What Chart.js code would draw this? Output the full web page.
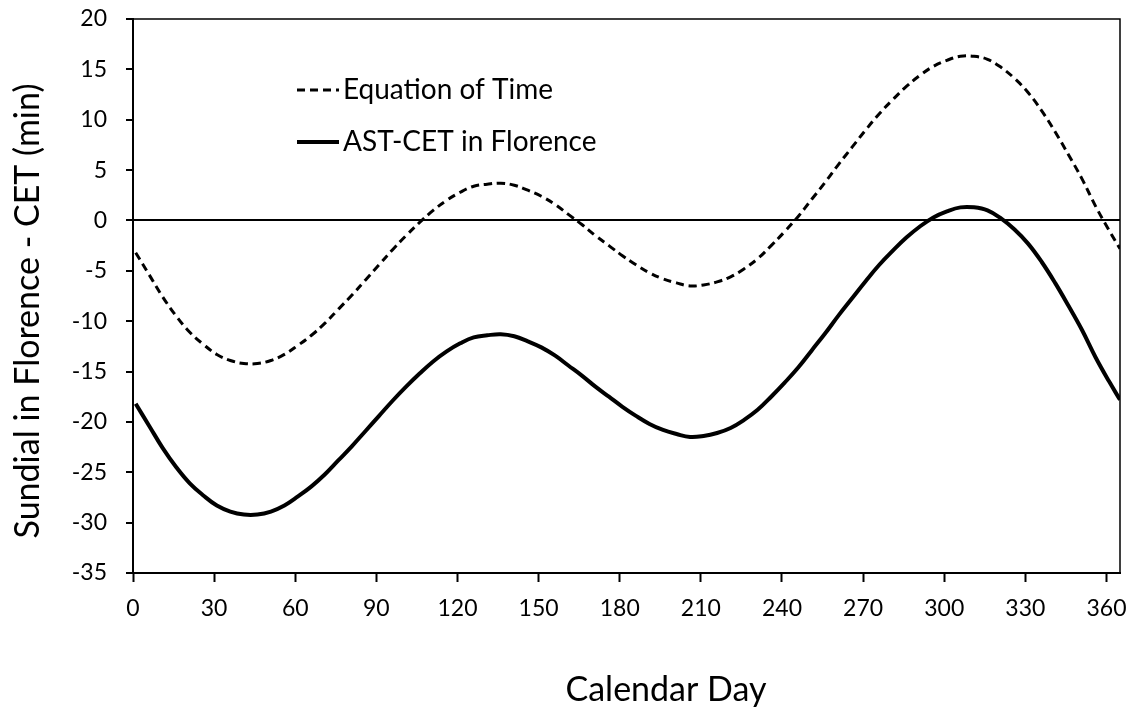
<!DOCTYPE html>
<html>
<head>
<meta charset="utf-8">
<script src="https://cdn.jsdelivr.net/npm/chart.js@4/dist/chart.umd.min.js"></script>
<style>
  html, body { margin: 0; padding: 0; background: #fff; }
  #chart { display: block; }
</style>
</head>
<body>
<canvas id="chart" width="1131" height="711"></canvas>
<script>
// ============================================
// DATA
// ============================================

const DAYS = [1, 6, 11, 16, 21, 26, 31, 36, 41, 46, 51, 56, 61, 66, 71, 76, 81, 86, 91, 96,
    101, 106, 111, 116, 121, 126, 131, 136, 141, 146, 151, 156, 161, 166, 171, 176, 181, 186, 191, 196,
    201, 206, 211, 216, 221, 226, 231, 236, 241, 246, 251, 256, 261, 266, 271, 276, 281, 286, 291, 296,
    301, 306, 311, 316, 321, 326, 331, 336, 341, 346, 351, 356, 361, 365];

const EQUATION_OF_TIME = [-3.2, -5.4, -7.6, -9.5, -11.1, -12.3, -13.3, -13.9, -14.2, -14.2,
    -13.9, -13.3, -12.4, -11.4, -10.2, -8.8, -7.4, -5.9, -4.4, -2.9,
    -1.5, -0.2, 1.0, 2.0, 2.8, 3.4, 3.6, 3.7, 3.5, 3.0,
    2.4, 1.6, 0.6, -0.4, -1.5, -2.5, -3.5, -4.4, -5.2, -5.8,
    -6.2, -6.5, -6.4, -6.1, -5.6, -4.8, -3.8, -2.5, -1.1, 0.4,
    2.1, 3.8, 5.6, 7.3, 9.0, 10.6, 12.0, 13.3, 14.4, 15.3,
    15.9, 16.3, 16.3, 16.0, 15.2, 14.1, 12.7, 10.9, 8.8, 6.5,
    4.1, 1.4, -1.0, -2.8];

const AST_CET_FLORENCE = [-18.2, -20.4, -22.6, -24.5, -26.1, -27.3, -28.3, -28.9, -29.2, -29.2,
    -28.9, -28.3, -27.4, -26.4, -25.2, -23.8, -22.4, -20.9, -19.4, -17.9,
    -16.5, -15.2, -14.0, -13.0, -12.2, -11.6, -11.4, -11.3, -11.5, -12.0,
    -12.6, -13.4, -14.4, -15.4, -16.5, -17.5, -18.5, -19.4, -20.2, -20.8,
    -21.2, -21.5, -21.4, -21.1, -20.6, -19.8, -18.8, -17.5, -16.1, -14.6,
    -12.9, -11.2, -9.4, -7.7, -6.0, -4.4, -3.0, -1.7, -0.6, 0.3,
    0.9, 1.3, 1.3, 1.0, 0.2, -0.9, -2.3, -4.1, -6.2, -8.5,
    -10.9, -13.6, -16.0, -17.8];

const X_TICKS = [0, 30, 60, 90, 120, 150, 180, 210, 240, 270, 300, 330, 360];
const Y_TICKS = [-35, -30, -25, -20, -15, -10, -5, 0, 5, 10, 15, 20];

const SERIES_LABELS = ['Equation of Time', 'AST-CET in Florence'];
const X_TITLE = 'Calendar Day';
const Y_TITLE = 'Sundial in Florence - CET (min)';

const FONT = 'Lato, "Open Sans", sans-serif';

// ============================================
// PLUGINS
// ============================================

const whiteBackground = {
    id: 'whiteBackground',
    beforeDraw(chart) {
        const ctx = chart.ctx;
        ctx.save();
        ctx.fillStyle = '#fff';
        ctx.fillRect(0, 0, chart.width, chart.height);
        ctx.restore();
    }
};

// plot frame, in-plot legend and the (off-centre) axis titles
const frameAndLegend = {
    id: 'frameAndLegend',
    afterDraw(chart) {
        const ctx = chart.ctx;
        const a = chart.chartArea;
        ctx.save();
        ctx.strokeStyle = '#000';
        ctx.lineWidth = 1.5;
        ctx.beginPath();
        ctx.moveTo(a.left, a.top);
        ctx.lineTo(a.right, a.top);
        ctx.lineTo(a.right, a.bottom);
        ctx.stroke();

        // legend
        const rows = [
            { y: 90, dash: [8, 5], width: 3 },
            { y: 142, dash: [], width: 4 }
        ];
        ctx.font = '28px ' + FONT;
        ctx.fillStyle = '#000';
        ctx.textBaseline = 'middle';
        ctx.textAlign = 'left';
        rows.forEach((r, i) => {
            ctx.beginPath();
            ctx.setLineDash(r.dash);
            ctx.lineWidth = r.width;
            ctx.moveTo(297, r.y);
            ctx.lineTo(339, r.y);
            ctx.stroke();
            ctx.setLineDash([]);
            ctx.fillText(SERIES_LABELS[i], 343, r.y);
        });

        // axis titles
        ctx.font = '34px ' + FONT;
        ctx.textAlign = 'center';
        ctx.fillText(X_TITLE, 666, 690);
        ctx.translate(28, 311);
        ctx.rotate(-Math.PI / 2);
        ctx.fillText(Y_TITLE, 0, 0);
        ctx.restore();
    }
};

// tick padding is otherwise added to the space kept around the plot
function noEdgePadding(scale) {
    scale.paddingTop = 0;
    scale.paddingBottom = 0;
    scale.paddingLeft = 0;
    scale.paddingRight = 0;
}

// ============================================
// CHART
// ============================================

const ctx = document.getElementById('chart');

new Chart(ctx, {
    type: 'line',
    data: {
        datasets: [{
            label: SERIES_LABELS[0],
            data: DAYS.map((d, i) => ({ x: d, y: EQUATION_OF_TIME[i] })),
            borderColor: '#000',
            borderWidth: 3,
            borderDash: [8, 5],
            pointRadius: 0,
            tension: 0.4,
            fill: false
        }, {
            label: SERIES_LABELS[1],
            data: DAYS.map((d, i) => ({ x: d, y: AST_CET_FLORENCE[i] })),
            borderColor: '#000',
            borderWidth: 4,
            pointRadius: 0,
            tension: 0.4,
            fill: false
        }]
    },
    options: {
        responsive: false,
        animation: false,
        layout: { autoPadding: false, padding: { left: 0, top: 19, right: 11, bottom: 0 } },
        plugins: {
            legend: { display: false },
            tooltip: { enabled: false }
        },
        scales: {
            x: {
                type: 'linear',
                min: 0,
                max: 365,
                afterBuildTicks: (scale) => { scale.ticks = X_TICKS.map(v => ({ value: v })); },
                afterFit: (scale) => { scale.height = 138; noEdgePadding(scale); },
                grid: {
                    drawOnChartArea: false,
                    tickLength: 9,
                    tickColor: '#000',
                    tickWidth: 2
                },
                border: { color: '#000', width: 2 },
                ticks: {
                    color: '#000',
                    padding: 13,
                    maxRotation: 0,
                    font: { family: FONT, size: 23 }
                }
            },
            y: {
                min: -35,
                max: 20,
                afterBuildTicks: (scale) => { scale.ticks = Y_TICKS.map(v => ({ value: v })); },
                afterFit: (scale) => { scale.width = 133; noEdgePadding(scale); },
                grid: {
                    color: (c) => (c.tick && c.tick.value === 0 ? '#000' : 'rgba(0,0,0,0)'),
                    lineWidth: 2,
                    tickLength: 7,
                    tickColor: '#000',
                    tickWidth: 2
                },
                border: { color: '#000', width: 2 },
                ticks: {
                    color: '#000',
                    padding: 19,
                    font: { family: FONT, size: 23 }
                }
            }
        }
    },
    plugins: [whiteBackground, frameAndLegend]
});
</script>
</body>
</html>
